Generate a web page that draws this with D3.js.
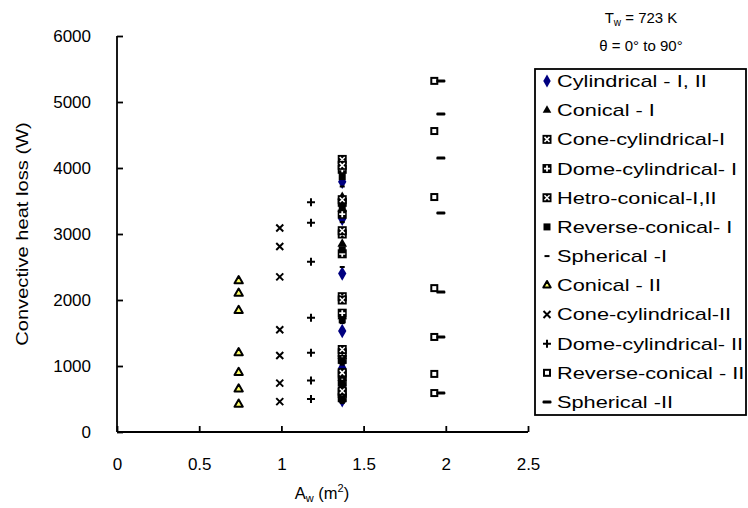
<!DOCTYPE html>
<html>
<head>
<meta charset="utf-8">
<script src="https://cdn.jsdelivr.net/npm/d3@7"></script>
<style>
  html, body { margin: 0; padding: 0; background: #fff; }
  svg { display: block; }
  text { font-family: "Liberation Sans", Arial, Helvetica, sans-serif; fill: #000; }
</style>
</head>
<body>
<svg id="chart" width="748" height="508"></svg>
<script>
// Wall area of each test receiver (m^2)
const seriesArea = [1.37, 1.37, 1.37, 1.37, 1.37, 1.37, 1.37, 0.74, 0.99, 1.18, 1.93, 1.97];

// Convective heat loss (W) for tilt angles 0° to 90°
const cylindrical     = [3790, 3230, 2400, 1530, 970, 710, 480];
const conicalI        = [3560, 3380, 2850, 1750, 1150, 820, 560];
const coneCylI        = [4130, 3480, 3000, 2050, 1200, 880, 600];
const domeCylI        = [3980, 3300, 2700, 1800, 1100, 760, 520];
const hetroConical    = [4040, 3520, 3050, 2000, 1250, 900, 620];
const reverseConI     = [3870, 3420, 2760, 1700, 1080, 740, 500];
const sphericalI      = [3720, 3180, 2500, 1650, 1020, 690, 440];
const conicalII       = [2290, 2100, 1840, 1200, 900, 650, 420];
const coneCylII       = [3090, 2810, 2350, 1550, 1160, 740, 460];
const domeCylII       = [3480, 3170, 2580, 1730, 1200, 780, 500];
const reverseConII    = [5320, 4560, 3560, 2180, 1440, 880, 590];
const sphericalII     = [5320, 4820, 4150, 3320, 2120, 1440, 590];

const seriesNames = [
  "Cylindrical - I, II", "Conical - I", "Cone-cylindrical-I", "Dome-cylindrical- I",
  "Hetro-conical-I,II", "Reverse-conical- I", "Spherical -I", "Conical - II",
  "Cone-cylindrical-II", "Dome-cylindrical- II", "Reverse-conical - II", "Spherical -II"
];
const seriesValues = [
  cylindrical, conicalI, coneCylI, domeCylI, hetroConical, reverseConI,
  sphericalI, conicalII, coneCylII, domeCylII, reverseConII, sphericalII
];
const seriesMarker = [
  "diamond", "triangle", "boxTimes", "boxPlus", "boxTimes", "square",
  "smallDash", "openTriangle", "times", "plus", "openSquare", "dash"
];

const xTicks = [0, 0.5, 1, 1.5, 2, 2.5];
const yTicks = [0, 1000, 2000, 3000, 4000, 5000, 6000];

const svg = d3.select("#chart");
const x = d3.scaleLinear().domain([0, 2.5]).range([117, 528]);
const y = d3.scaleLinear().domain([0, 6000]).range([432, 36]);

// Axes with inward ticks
const xAxis = svg.append("g").attr("transform", `translate(0,${y(0)})`)
  .call(d3.axisBottom(x).tickValues(xTicks).tickFormat(d3.format("")).tickSizeInner(-6).tickSizeOuter(-6).tickPadding(26));
const yAxis = svg.append("g").attr("transform", `translate(${x(0)},0)`)
  .call(d3.axisLeft(y).tickValues(yTicks).tickFormat(d3.format("")).tickSizeInner(-6).tickSizeOuter(-6).tickPadding(26));
[xAxis, yAxis].forEach(g => {
  g.selectAll("path, line").attr("stroke", "#000").attr("stroke-width", 1.8);
  g.selectAll("text").attr("font-size", 17).attr("font-family", null);
});
xAxis.select(".domain").attr("d", `M${x(0)},0H${x(2.5)}`);
xAxis.selectAll(".tick line").attr("y2", -6);
yAxis.select(".domain").attr("d", `M0,${y(0)}V${y(6000)}`);

// Axis titles
svg.append("text").attr("transform", `translate(28,${(y(0) + y(6000)) / 2}) rotate(-90) scale(1.22,1)`)
  .attr("text-anchor", "middle").attr("font-size", 16.5).text("Convective heat loss  (W)");
const xt = svg.append("text").attr("x", 322).attr("y", 499).attr("text-anchor", "middle").attr("font-size", 16.5);
xt.append("tspan").text("A");
xt.append("tspan").attr("font-size", 11).attr("dy", 3).text("w");
xt.append("tspan").attr("dy", -3).text(" (m");
xt.append("tspan").attr("font-size", 11).attr("dy", -7).text("2");
xt.append("tspan").attr("dy", 7).text(")");

// Operating conditions
const t1 = svg.append("text").attr("x", 641).attr("y", 23).attr("text-anchor", "middle").attr("font-size", 15);
t1.append("tspan").text("T");
t1.append("tspan").attr("font-size", 10).attr("dy", 3).text("w");
t1.append("tspan").attr("dy", -3).text(" = 723 K");
svg.append("text").attr("x", 641).attr("y", 51).attr("text-anchor", "middle").attr("font-size", 15)
  .text("θ = 0° to 90°");

// Marker drawing
function drawMarker(g, kind, s) {
  const sym = (type, size) => d3.symbol().type(type).size(size)();
  switch (kind) {
    case "diamond":
      g.append("path").attr("d", sym(d3.symbolDiamond, 60 * s)).attr("fill", "#000080"); break;
    case "triangle":
      g.append("path").attr("d", sym(d3.symbolTriangle, 40 * s)).attr("fill", "#000"); break;
    case "square":
      g.append("rect").attr("x", -3.5).attr("y", -3.5).attr("width", 7).attr("height", 7).attr("fill", "#000"); break;
    case "boxTimes":
      g.append("rect").attr("x", -4.5).attr("y", -4.5).attr("width", 9).attr("height", 9).attr("fill", "#000");
      g.append("path").attr("d", "M-2.5,-2.5L2.5,2.5M-2.5,2.5L2.5,-2.5").attr("stroke", "#fff").attr("stroke-width", 1.5); break;
    case "boxPlus":
      g.append("rect").attr("x", -4.5).attr("y", -4.5).attr("width", 9).attr("height", 9).attr("fill", "#000");
      g.append("path").attr("d", "M-3,0H3M0,-3V3").attr("stroke", "#fff").attr("stroke-width", 1.8); break;
    case "smallDash":
      g.append("rect").attr("x", -2.5).attr("y", -1).attr("width", 5).attr("height", 2).attr("fill", "#000"); break;
    case "openTriangle":
      g.append("path").attr("d", sym(d3.symbolTriangle, 30 * s)).attr("fill", "#ffff66")
        .attr("stroke", "#000").attr("stroke-width", 2).attr("stroke-linejoin", "round"); break;
    case "times":
      g.append("path").attr("d", "M-3.5,-3.5L3.5,3.5M-3.5,3.5L3.5,-3.5").attr("stroke", "#000").attr("stroke-width", 2); break;
    case "plus":
      g.append("path").attr("d", "M-4,0H4M0,-4V4").attr("stroke", "#000").attr("stroke-width", 2); break;
    case "openSquare":
      g.append("rect").attr("x", -3).attr("y", -3).attr("width", 6).attr("height", 6).attr("fill", "#fff")
        .attr("stroke", "#000").attr("stroke-width", 2); break;
    case "dash":
      g.append("rect").attr("x", -4.5).attr("y", -1.5).attr("width", 9).attr("height", 3).attr("rx", 1.2).attr("fill", "#000"); break;
  }
}

// Data points
const plot = svg.append("g");
seriesValues.forEach((vals, i) => {
  vals.forEach(v => {
    const g = plot.append("g").attr("transform", `translate(${x(seriesArea[i])},${y(v)})`);
    drawMarker(g, seriesMarker[i], 1);
  });
});

// Legend (labels set in a wide face)
const lg = svg.append("g");
lg.append("rect").attr("x", 535).attr("y", 69).attr("width", 211).attr("height", 346)
  .attr("fill", "#fff").attr("stroke", "#000").attr("stroke-width", 1.8);
const rowY = d3.scalePoint().domain(d3.range(seriesNames.length)).range([81, 402]);
seriesNames.forEach((name, i) => {
  const g = lg.append("g").attr("transform", `translate(547,${rowY(i)})`);
  drawMarker(g, seriesMarker[i], 0.8);
  lg.append("text").attr("transform", `translate(557,${rowY(i) + 6}) scale(1.28,1)`)
    .attr("font-size", 17).text(name);
});
</script>
</body>
</html>
